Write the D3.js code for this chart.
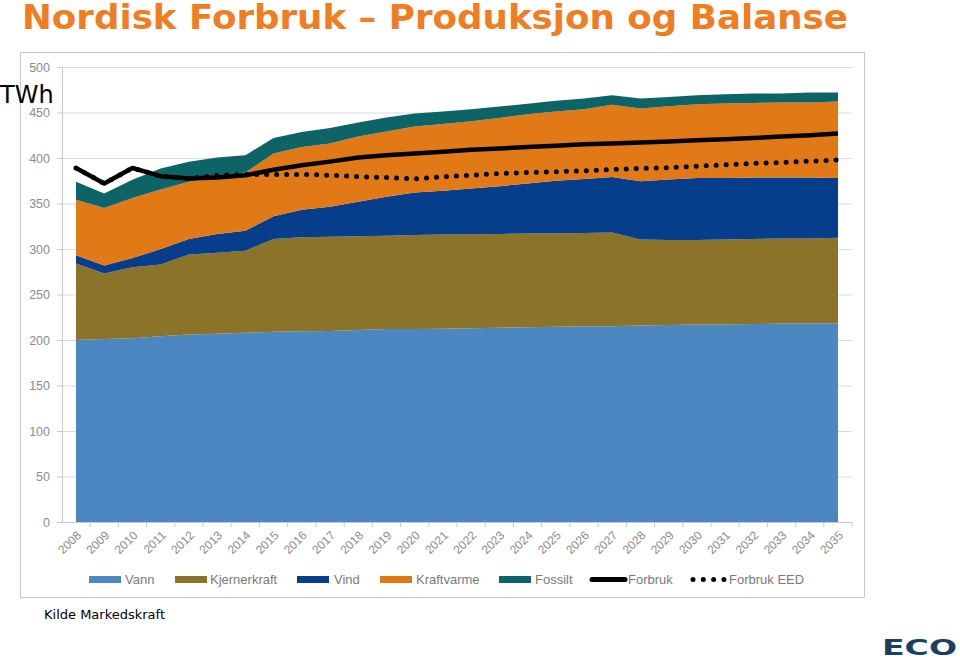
<!DOCTYPE html>
<html><head><meta charset="utf-8">
<script src="https://cdn.jsdelivr.net/npm/d3@7"></script>
<style>
html,body{margin:0;padding:0;background:#fff;}
svg{display:block;}
</style></head>
<body>
<svg id="c" width="960" height="662"></svg>
<script>
const years = ["2008","2009","2010","2011","2012","2013","2014","2015","2016","2017","2018","2019","2020","2021","2022","2023","2024","2025","2026","2027","2028","2029","2030","2031","2032","2033","2034","2035"];
const vann        = [200,201,202,204,206,207,208,209,209.5,210,211,212,212,212.5,213,213.5,214,214.5,215,215,216,216.5,217,217,217.5,218,218,218.5];
const kjernerkraft= [84,72,78,79,88,89,90,102,103.5,103.5,103,102.5,103.5,103.5,103,103,103,102.5,102.5,103,94.5,93.5,93,93.5,93.5,93.5,93.5,94];
const vind        = [9,9,10,17,17,20.5,22,25,30,33,38,43,46.5,48,50.5,52.5,55,58,59.5,61,64,66.5,68,67.5,67.5,67,67,65.5];
const kraftvarme  = [61,63,66,65.5,63,63,64,69,69,69.5,71.5,71.5,72.5,73.5,74,75,76,76,76.5,79.5,80,80.5,81,82,82,82.5,82.5,84];
const fossilt     = [20,16,20,23,22,21,19,17,16.5,17,15.5,15.5,14.5,13.5,13,12.5,11.5,12,12,10.5,11,10,10,10,10.5,10,11,10];
const forbruk     = [389,372,389,380,377.5,378.5,381,387,392,396,400.5,403,405,407,409,410.5,412,413.5,415,416,417,418,419.5,420.5,422,423.5,425,427];
const forbrukEED  = [389,372,389,380,377.5,381,382,382,382,381,379.5,378.5,377,379.5,381,383,384,385,386,387.5,388.5,389.5,391,392.5,394,395,396.5,398];
const yTicks = [0,50,100,150,200,250,300,350,400,450,500];
const seriesNames = ["Vann","Kjernerkraft","Vind","Kraftvarme","Fossilt"];
const seriesColors = ["#4d87c1","#8b7329","#073e8b","#e07916","#0d6466"];

const svg = d3.select("#c");

// title
svg.append("text").attr("x",22).attr("y",29)
  .attr("font-family","DejaVu Sans, Verdana, sans-serif").attr("font-weight","bold")
  .attr("font-size",33).attr("fill","#ef7d22")
  .attr("textLength",826).attr("lengthAdjust","spacingAndGlyphs")
  .text("Nordisk Forbruk – Produksjon og Balanse");

// chart border
svg.append("rect").attr("x",20.5).attr("y",52.5).attr("width",844).attr("height",545)
  .attr("fill","#fff").attr("stroke","#c8c8c8").attr("stroke-width",1);

const x = d3.scalePoint().domain(years).range([76,838]);
const y = d3.scaleLinear().domain([0,500]).range([522,67]);
const plotL = 62, plotR = 852;

// gridlines
svg.append("g").attr("transform",`translate(${plotL},0)`)
  .call(d3.axisLeft(y).tickValues(yTicks).tickSize(-(plotR-plotL)).tickFormat(""))
  .call(g=>g.select(".domain").remove())
  .call(g=>g.selectAll("line").attr("stroke","#dcdcdc"));

// y axis
svg.append("g").attr("transform",`translate(${plotL},0)`)
  .call(d3.axisLeft(y).tickValues(yTicks).tickSize(5).tickPadding(7))
  .call(g=>g.select(".domain").attr("stroke","#c8c8c8"))
  .call(g=>g.selectAll("line").attr("stroke","#c8c8c8"))
  .call(g=>g.selectAll("text").attr("fill","#8c8c8c").attr("font-size",12.5)
        .attr("font-family","Liberation Sans, Arial, sans-serif"));

// stacked areas
const rows = years.map((yr,i)=>({year:yr,Vann:vann[i],Kjernerkraft:kjernerkraft[i],Vind:vind[i],Kraftvarme:kraftvarme[i],Fossilt:fossilt[i]}));
const stack = d3.stack().keys(seriesNames)(rows);
const area = d3.area().x(d=>x(d.data.year)).y0(d=>y(d[0])).y1(d=>y(d[1]));
svg.append("g").selectAll("path").data(stack).join("path")
  .attr("d",area).attr("fill",(d,i)=>seriesColors[i]);

// x axis
const step = x.step();
svg.append("line").attr("x1",plotL).attr("x2",plotR).attr("y1",522.5).attr("y2",522.5).attr("stroke","#c8c8c8");
svg.append("g").selectAll("line").data(years).join("line")
  .attr("x1",d=>x(d)+step/2).attr("x2",d=>x(d)+step/2).attr("y1",522).attr("y2",527).attr("stroke","#c8c8c8");
svg.append("g").selectAll("text").data(years).join("text")
  .attr("transform",d=>`translate(${x(d)+3},${533}) rotate(-45)`)
  .attr("text-anchor","end").attr("dy","0.35em")
  .attr("font-family","Liberation Sans, Arial, sans-serif").attr("font-size",12).attr("fill","#8c8c8c")
  .text(d=>d);

// lines
const line = d3.line().x((d,i)=>x(years[i])).y(d=>y(d));
svg.append("path").datum(forbrukEED).attr("d",line).attr("fill","none")
  .attr("stroke","#000").attr("stroke-width",5).attr("stroke-linecap","round").attr("stroke-dasharray","0 10");
svg.append("path").datum(forbruk).attr("d",line).attr("fill","none")
  .attr("stroke","#000").attr("stroke-width",4.5).attr("stroke-linejoin","round");

// legend
const lg = svg.append("g").attr("font-family","Liberation Sans, Arial, sans-serif").attr("font-size",13).attr("fill","#7a7a7a");
const legendItems = [
  {name:"Vann",x0:89,tx:125},{name:"Kjernerkraft",x0:175,tx:210},{name:"Vind",x0:297,tx:334},
  {name:"Kraftvarme",x0:380,tx:416},{name:"Fossilt",x0:499,tx:535}];
legendItems.forEach((it,i)=>{
  lg.append("rect").attr("x",it.x0).attr("y",576).attr("width",32).attr("height",7).attr("fill",seriesColors[i]);
  lg.append("text").attr("x",it.tx).attr("y",584).text(it.name);
});
lg.append("line").attr("x1",592).attr("x2",625).attr("y1",579.5).attr("y2",579.5)
  .attr("stroke","#000").attr("stroke-width",5).attr("stroke-linecap","round");
lg.append("text").attr("x",628).attr("y",584).text("Forbruk");
lg.append("line").attr("x1",693).attr("x2",724).attr("y1",579.5).attr("y2",579.5)
  .attr("stroke","#000").attr("stroke-width",5).attr("stroke-linecap","round").attr("stroke-dasharray","0 10.3");
lg.append("text").attr("x",729).attr("y",584).text("Forbruk EED");

// TWh label
svg.append("text").attr("x",0).attr("y",103).attr("font-family","DejaVu Sans, Verdana, sans-serif")
  .attr("font-size",24).attr("fill","#000").text("TWh");

// source
svg.append("text").attr("x",44).attr("y",619).attr("font-family","DejaVu Sans, Verdana, sans-serif")
  .attr("font-size",13).attr("fill","#000").text("Kilde Markedskraft");

// logo
svg.append("text").attr("x",882).attr("y",655).attr("font-family","DejaVu Sans, Verdana, sans-serif")
  .attr("font-weight","bold").attr("font-size",21).attr("fill","#1b3f60")
  .attr("textLength",75).attr("lengthAdjust","spacingAndGlyphs").text("ECO");
</script>
</body></html>
